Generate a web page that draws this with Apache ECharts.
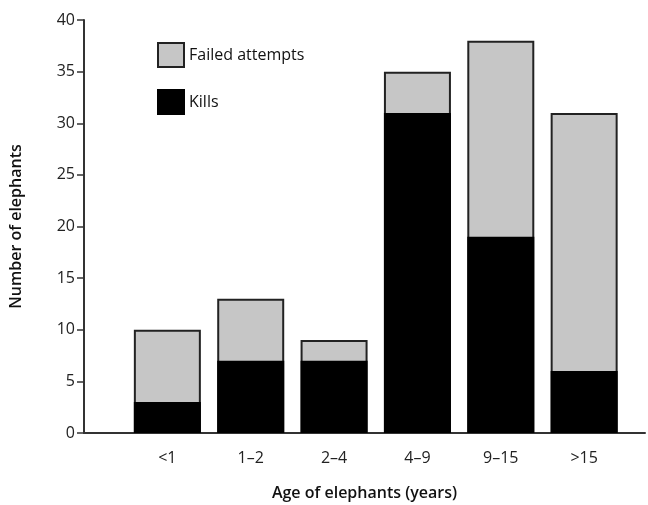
<!DOCTYPE html>
<html>
<head>
<meta charset="utf-8">
<script src="https://cdn.jsdelivr.net/npm/echarts@6/dist/echarts.min.js"></script>
<style>
html, body { margin: 0; padding: 0; background: #fff; }
#chart { width: 648px; height: 505px; }
</style>
</head>
<body>
<div id="chart"></div>
<script>
// age groups and counts
var ages = ['<1', '1\u20132', '2\u20134', '4\u20139', '9\u201315', '>15'];
var kills = [3, 7, 7, 31, 19, 6];
var failed = [7, 6, 2, 4, 19, 25];
var yTicks = [0, 5, 10, 15, 20, 25, 30, 35, 40];

var myChart = echarts.init(document.getElementById('chart'));

// bars sit at x = 1..6 on a value axis so the axis line runs past the last bar
// the grey bar shows kills + failed, the black one is drawn over it
function toPoints(arr) {
	return arr.map(function (v, i) { return [i + 1, v]; });
}
var totals = kills.map(function (k, i) { return k + failed[i]; });

var font = 'Open Sans';

var option = {
	animation: false,
	textStyle: { fontFamily: font },
	legend: {
		orient: 'vertical',
		left: 152,
		top: 37,
		itemWidth: 26,
		itemHeight: 24,
		itemGap: 21,
		icon: 'rect',
		data: ['Failed attempts', 'Kills'],
		textStyle: { fontSize: 16, color: '#111', fontFamily: font }
	},
	grid: {
		left: 84,
		top: 20,
		width: 561,
		bottom: 72,
		outerBoundsMode: 'none'
	},
	xAxis: {
		type: 'value',
		min: 0,
		max: 6.73,
		interval: 1,
		name: 'Age of elephants (years)',
		nameLocation: 'middle',
		nameGap: 52,
		nameTextStyle: { fontSize: 16, fontWeight: 600, color: '#111', fontFamily: font },
		axisLine: { show: true, lineStyle: { color: '#333', width: 2 } },
		axisTick: { show: false },
		splitLine: { show: false },
		axisLabel: {
			fontSize: 16,
			color: '#222',
			margin: 17,
			showMaxLabel: false,
			formatter: function (v) {
				var i = Math.round(v) - 1;
				return ages[i] || '';
			}
		}
	},
	yAxis: {
		type: 'value',
		min: yTicks[0],
		max: yTicks[yTicks.length - 1],
		interval: 5,
		name: 'Number of elephants',
		nameLocation: 'middle',
		nameGap: 60,
		nameTextStyle: { fontSize: 16, fontWeight: 600, color: '#111', fontFamily: font },
		axisLine: { show: true, lineStyle: { color: '#333', width: 2 } },
		axisTick: { show: true, inside: false, length: 7, lineStyle: { color: '#333', width: 1.5 } },
		splitLine: { show: false },
		axisLabel: { fontSize: 16, color: '#222', margin: 9 }
	},
	series: [
		{
			name: 'Failed attempts',
			type: 'bar',
			barWidth: 67,
			barGap: '-100%',
			data: toPoints(totals),
			itemStyle: { color: '#c6c6c6', borderColor: '#222', borderWidth: 2 }
		},
		{
			name: 'Kills',
			type: 'bar',
			barWidth: 67,
			barGap: '-100%',
			data: toPoints(kills),
			itemStyle: { color: '#000', borderColor: '#000', borderWidth: 1.5 }
		}
	]
};

myChart.setOption(option);
</script>
</body>
</html>
